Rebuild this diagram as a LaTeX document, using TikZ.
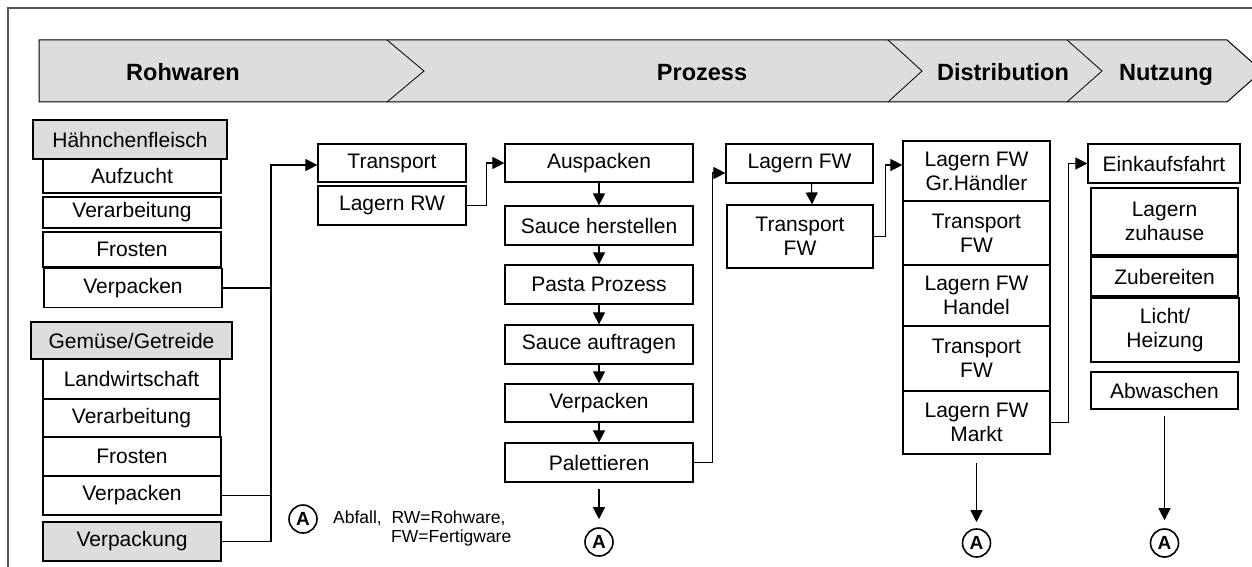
\documentclass[tikz,border=0pt]{standalone}
\usepackage{fontspec}
\setmainfont{Liberation Sans}
\usetikzlibrary{arrows.meta}
\definecolor{bannerfill}{RGB}{221,221,221}
\definecolor{framegray}{RGB}{85,85,85}
\newcommand\bxfont{\fontsize{21pt}{24pt}\selectfont}
\newcommand\bnfont{\fontsize{23.5pt}{27pt}\selectfont\bfseries}
\newcommand\lgfont{\fontsize{17.5pt}{20pt}\selectfont}
\newcommand\afont{\fontsize{19pt}{20pt}\selectfont\bfseries}
\tikzset{
 box/.style={draw, line width=1.2pt, fill=white, inner sep=0pt, align=center, font=\bxfont},
 gbox/.style={box, fill=bannerfill},
 arr/.style={-{Triangle[length=12pt,width=12pt]}, line width=1.1pt},
 ln/.style={line width=1.1pt},
 wastecirc/.style={circle, draw, line width=1.6pt, minimum size=28pt, inner sep=0pt, font=\afont},
 bantext/.style={font=\bnfont, inner sep=0pt, anchor=base},
 legtext/.style={font=\lgfont, anchor=west, inner sep=0pt},
}
\begin{document}
\begin{tikzpicture}[x=1pt,y=-1pt]
\useasboundingbox (0,0) rectangle (1252,567);
\clip (0,0) rectangle (1252,567);
% frame
\draw[line width=1.4pt, framegray] (8,567) -- (8,8) -- (1252,8);
% banner
\draw[line width=1pt, fill=bannerfill] (39,40) -- (1227,40) -- (1262,71) -- (1227,102) -- (39,102) -- cycle;
\draw[line width=0.8pt] (387,40) -- (424,71) -- (387,102);
\draw[line width=0.8pt] (888,40) -- (922,71) -- (888,102);
\draw[line width=0.8pt] (1067,40) -- (1102,71) -- (1067,102);
\node[bantext] (t1) at (183,80.5) {Rohwaren};
\node[bantext] (t2) at (702,80.5) {Prozess};
\node[bantext] (t3) at (1003,80.5) {Distribution};
\node[bantext] (t4) at (1166,80.5) {Nutzung};
% left column
\node[gbox, minimum width=194pt, minimum height=39pt] (hf) at (130,139.5) {Hähnchenfleisch};
\node[box, minimum width=178pt, minimum height=34pt] (a1) at (132,176) {Aufzucht};
\node[box, minimum width=178pt, minimum height=31pt] (a2) at (132,212.5) {Verarbeitung};
\node[box, minimum width=178pt, minimum height=35pt] (a3) at (132,249.5) {Frosten};
\node[box, minimum width=178pt, minimum height=39pt] (a4) at (133,288) {Verpacken};
\node[gbox, minimum width=201pt, minimum height=37pt] (gg) at (131.5,340.5) {Gemüse/Getreide};
\node[box, minimum width=177pt, minimum height=40pt] (b1) at (131.5,379) {Landwirtschaft};
\node[box, minimum width=177pt, minimum height=38pt] (b2) at (131.5,418) {Verarbeitung};
\node[box, minimum width=178pt, minimum height=39pt] (b3) at (132,456.5) {Frosten};
\node[box, minimum width=178pt, minimum height=39pt] (b4) at (132,495.5) {Verpacken};
\node[gbox, minimum width=178pt, minimum height=39pt] (vp) at (132,541.5) {Verpackung};
% process
\node[box, minimum width=148pt, minimum height=38pt] (tr) at (392,163) {Transport};
\node[box, minimum width=148pt, minimum height=39pt] (lr) at (392,205.5) {Lagern RW};
\node[box, minimum width=188pt, minimum height=38pt] (au) at (599,163) {Auspacken};
\node[box, minimum width=188pt, minimum height=39pt] (sh) at (599,225.5) {Sauce herstellen};
\node[box, minimum width=188pt, minimum height=39pt] (pp) at (599,284.5) {Pasta Prozess};
\node[box, minimum width=188pt, minimum height=39pt] (sa) at (599,344.5) {Sauce auftragen};
\node[box, minimum width=188pt, minimum height=38pt] (vk) at (599,403) {Verpacken};
\node[box, minimum width=188pt, minimum height=39pt] (pa) at (599,462.5) {Palettieren};
\node[box, minimum width=147pt, minimum height=39pt] (lf) at (799.5,163.5) {Lagern FW};
\node[box, minimum width=146pt, minimum height=63pt] (tf) at (800,236.5) {Transport\\FW};
% distribution
\node[box, minimum width=147pt, minimum height=60pt] (d1) at (976.5,171) {Lagern FW\\Gr.Händler};
\node[box, minimum width=147pt, minimum height=64pt] (d2) at (976.5,233) {Transport\\FW};
\node[box, minimum width=147pt, minimum height=61pt] (d3) at (976.5,295.5) {Lagern FW\\Handel};
\node[box, minimum width=147pt, minimum height=65pt] (d4) at (976.5,358.5) {Transport\\FW};
\node[box, minimum width=147pt, minimum height=63pt] (d5) at (976.5,422.5) {Lagern FW\\Markt};
% use
\node[box, minimum width=152pt, minimum height=39pt] (n1) at (1164,163.5) {Einkaufsfahrt};
\node[box, minimum width=147pt, minimum height=67pt] (n2) at (1164.5,221.5) {Lagern\\zuhause};
\node[box, minimum width=147pt, minimum height=39pt] (n3) at (1164.5,276.5) {Zubereiten};
\node[box, minimum width=148pt, minimum height=64pt] (n4) at (1165,330) {Licht/\\Heizung};
\node[box, minimum width=147pt, minimum height=37pt] (n5) at (1164.5,390.5) {Abwaschen};
% waste circles
\node[wastecirc] (pA) at (599,542) {A};
\node[wastecirc] (dA) at (976.5,543) {A};
\node[wastecirc] (nA) at (1164.5,543) {A};
\node[wastecirc] (lA) at (303,519) {A};
\node[legtext] (lt1) at (333,518) {Abfall,\ \ RW=Rohware,};
\node[legtext] (lt2) at (391,538) {FW=Fertigware};
% connectors
\coordinate (jx) at (271,0);
\draw[ln] (a4.east) -- (a4.east -| jx);
\draw[ln] (b4.east) -- (b4.east -| jx);
\draw[arr] (vp.east) -| ([yshift=-2pt]tr.west -| jx) -- ([yshift=-2pt]tr.west);
\draw[arr] (lr.east) -- ++(20,0) |- (au.west);
\draw[arr] (au.south) -- (sh.north);
\draw[arr] (sh.south) -- (pp.north);
\draw[arr] (pp.south) -- (sa.north);
\draw[arr] (sa.south) -- (vk.north);
\draw[arr] (vk.south) -- (pa.north);
\draw[arr, shorten <=6pt, shorten >=8pt] (pa.south) -- (pA.north);
\draw[arr] (pa.east) -- ++(19,0) |- ([yshift=-9.5pt]lf.west);
\draw[arr] ([xshift=12pt]lf.south) -- ([xshift=12pt]tf.north);
\draw[arr] (tf.east) -- ++(12,0) |- ([yshift=6pt]d1.west);
\draw[arr, shorten <=8pt, shorten >=6pt] (d5.south) -- (dA.north);
\draw[arr] (d5.east) -- ++(18,0) |- (n1.west);
\draw[arr, shorten <=6pt, shorten >=8pt] (n5.south) -- (nA.north);
\end{tikzpicture}
\end{document}
